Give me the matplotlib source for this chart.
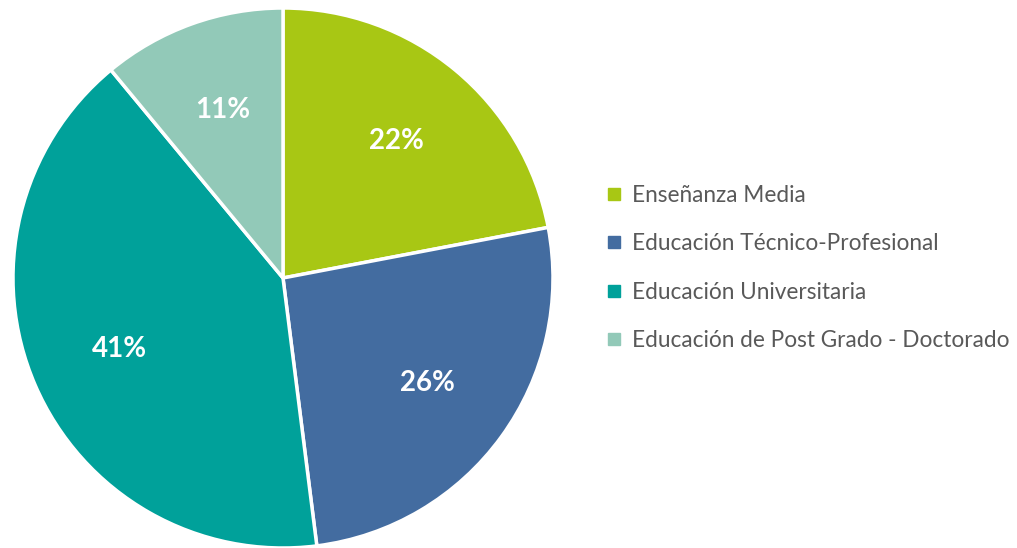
import matplotlib.pyplot as plt
from matplotlib.lines import Line2D

categories = ['Enseñanza Media', 'Educación Técnico-Profesional',
              'Educación Universitaria', 'Educación de Post Grado - Doctorado']
values = [22, 26, 41, 11]
colors = ['#A8C714', '#436CA0', '#00A19A', '#92C9B8']

plt.rcParams['font.family'] = ['Lato', 'DejaVu Sans']

fig = plt.figure(figsize=(10.17, 5.48), dpi=100)
ax = fig.add_axes([13 / 1017, 0, 540 / 1017, 540 / 548])

wedges, texts, autotexts = ax.pie(
    values, colors=colors, startangle=90, counterclock=False,
    autopct='%d%%', pctdistance=0.66,
    wedgeprops=dict(edgecolor='white', linewidth=2.5),
    textprops=dict(color='white', fontsize=20, fontweight='bold'))
ax.set_xlim(-1, 1)
ax.set_ylim(-1, 1)

handles = [Line2D([], [], marker='s', color=c, linestyle='none', markersize=8.5) for c in colors]
fig.legend(handles, categories, loc='center left', bbox_to_anchor=(582 / 1017, (548 - 268) / 548),
           frameon=False, fontsize=16.3, labelcolor='#595959', handletextpad=0.3,
           labelspacing=1.2, handlelength=1.0)

fig.savefig('out.png')
